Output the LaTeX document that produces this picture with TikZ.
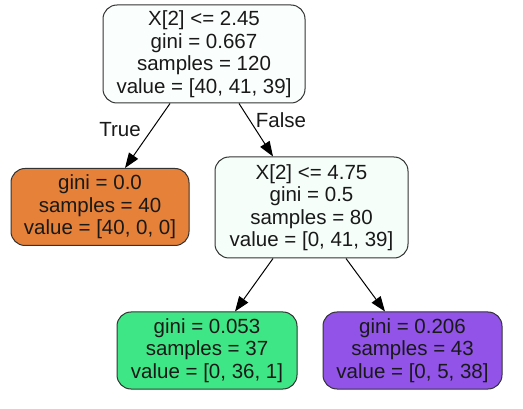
\documentclass[tikz,border=0pt]{standalone}
\usepackage{fontspec}
\setmainfont{Liberation Sans}
\usetikzlibrary{arrows.meta,calc}
\definecolor{rootfill}{HTML}{FAFEFC}
\definecolor{midfill}{HTML}{F5FEF9}
\definecolor{orangefill}{HTML}{E58139}
\definecolor{greenfill}{HTML}{3FE685}
\definecolor{purplefill}{HTML}{9153E8}
\definecolor{edgegray}{HTML}{333333}
\tikzset{
  treenode/.style={draw=edgegray, line width=1pt, rounded corners=14pt, inner sep=0pt,
    align=center, font=\fontsize{20.5}{22.5}\selectfont, text=black!90},
  conn/.style={line width=1pt, -{Triangle[length=15pt,width=11pt]}},
  elabel/.style={font=\fontsize{20.5}{22.5}\selectfont, text=black!90}
}
\begin{document}
\begin{tikzpicture}[x=1pt,y=-1pt]
\useasboundingbox (0,0) rectangle (523,409);
\node[treenode, fill=rootfill, minimum width=202pt, minimum height=98pt] (root) at (204,54)
  {X[2] <= 2.45\\gini = 0.667\\samples = 120\\value = [40, 41, 39]};
\node[treenode, fill=orangefill, minimum width=178pt, minimum height=77pt] (left) at (100,207)
  {gini = 0.0\\samples = 40\\value = [40, 0, 0]};
\node[treenode, fill=midfill, minimum width=193pt, minimum height=101pt] (mid) at (311.5,207.5)
  {X[2] <= 4.75\\gini = 0.5\\samples = 80\\value = [0, 41, 39]};
\node[treenode, fill=greenfill, minimum width=180pt, minimum height=77pt] (green) at (207,350.5)
  {gini = 0.053\\samples = 37\\value = [0, 36, 1]};
\node[treenode, fill=purplefill, minimum width=179pt, minimum height=77pt] (purple) at (412.5,350.5)
  {gini = 0.206\\samples = 43\\value = [0, 5, 38]};
\draw[conn] ($(root.south)+(-34,0)$) -- ($(left.north)+(25,0)$);
\draw[conn] ($(root.south)+(35,0)$) -- ($(mid.north)+(-38.5,0)$);
\draw[conn] ($(mid.south)+(-38.5,0)$) -- ($(green.north)+(28,0)$);
\draw[conn] ($(mid.south)+(34.5,0)$) -- ($(purple.north)+(-27.5,0)$);
\node[elabel] (truelbl) at (120,130) {True};
\node[elabel] (falselbl) at (281,120) {False};
\end{tikzpicture}
\end{document}
